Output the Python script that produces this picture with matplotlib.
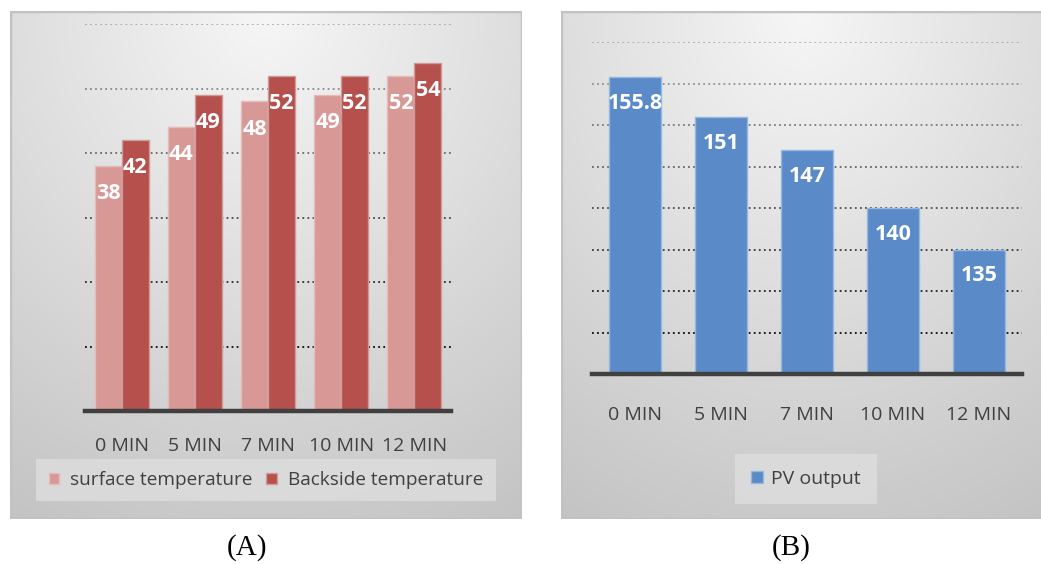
"""Two bar charts: panel temperatures (A) and PV output (B) over cooling time."""

import numpy as np
import matplotlib
matplotlib.use("Agg")
import matplotlib.pyplot as plt
from matplotlib.patches import Rectangle

plt.rcParams["font.family"] = ["Open Sans", "DejaVu Sans"]

# Data
times = ["0 MIN", "5 MIN", "7 MIN", "10 MIN", "12 MIN"]
surface_temp = [38, 44, 48, 49, 52]
backside_temp = [42, 49, 52, 52, 54]
pv_output = [155.8, 151, 147, 140, 135]
pv_labels = ["155.8", "151", "147", "140", "135"]

W, H = 1041, 564


def fig_rect(x0, y0, x1, y1):
    """Pixel box (top-left origin) -> figure fraction rect."""
    return [x0 / W, 1 - y1 / H, (x1 - x0) / W, (y1 - y0) / H]


def panel_background(fig, x0, y0, x1, y1):
    """Gray gradient panel like an Excel chart area."""
    bg = fig.add_axes(fig_rect(x0, y0, x1, y1), zorder=0)
    yy, xx = np.mgrid[0:1:200j, 0:1:200j]
    d = np.sqrt(((xx - 0.5) * 1.1) ** 2 + (yy * 1.0) ** 2)
    d = np.clip(d / 1.15, 0, 1)
    light, dark = 0.965, 0.765
    g = light - (light - dark) * d
    img = np.dstack([g, g, g])
    bg.imshow(img, extent=[0, 1, 0, 1], origin="upper", aspect="auto")
    bg.add_patch(Rectangle((0, 0), 1, 1, transform=bg.transAxes, fill=False,
                           edgecolor="#c2c2c2", lw=2.5))
    bg.set_axis_off()


def grid_lines(ax, levels):
    n = len(levels)
    for i, lv in enumerate(levels):
        # darker towards the bottom, as in the scanned original
        c = 0.66 - 0.62 * i / max(n - 1, 1)
        ax.axhline(lv, color=(c, c, c), lw=1.3, ls=(0, (1, 1.8)), zorder=1)


def style_axis(ax, pad):
    ax.set_facecolor("none")
    for s in ["top", "right", "left"]:
        ax.spines[s].set_visible(False)
    ax.spines["bottom"].set_color("#404040")
    ax.spines["bottom"].set_linewidth(3.2)
    ax.spines["bottom"].set_zorder(4)
    ax.set_yticks([])
    ax.tick_params(axis="x", length=0, pad=pad, labelsize=14, colors="#404040")


fig = plt.figure(figsize=(W / 100, H / 100), dpi=100)

# ---------- Panel A ----------
panel_background(fig, 10, 11, 522, 519)
axA = fig.add_axes(fig_rect(85, 24, 451, 411), zorder=2)
x = np.arange(len(times))
bw = 0.37
bars_s = axA.bar(x - bw / 2, surface_temp, bw, color="#d89896", edgecolor="#e6bcbb",
                 lw=1, label="surface temperature", zorder=3)
bars_b = axA.bar(x + bw / 2, backside_temp, bw, color="#b5504d", edgecolor="#d09a98",
                 lw=1, label="Backside temperature", zorder=3)
axA.set_xlim(-0.5, 4.5)
axA.set_ylim(0, 60)
grid_lines(axA, [60, 50, 40, 30, 20, 10])
axA.set_xticks(x)
axA.set_xticklabels(times)
style_axis(axA, 19)
for bars, vals in [(bars_s, surface_temp), (bars_b, backside_temp)]:
    for b, v in zip(bars, vals):
        axA.annotate(str(v), (b.get_x() + b.get_width() / 2, v), xytext=(0, -20),
                     textcoords="offset points", ha="center", va="center",
                     color="white", fontsize=15.5, fontweight="bold", zorder=5)
legA = fig.legend(handles=[bars_s, bars_b], loc="center",
                  bbox_to_anchor=(266 / W, 1 - 480 / H), ncol=2, frameon=True,
                  fontsize=13.7, handlelength=0.55, handleheight=0.55,
                  columnspacing=0.7, handletextpad=0.6, borderpad=0.65,
                  fancybox=False)
legA.get_frame().set_facecolor("#dedede")
legA.get_frame().set_edgecolor("none")
for t in legA.get_texts():
    t.set_color("#404040")
fig.text(247 / W, 1 - 548 / H, "(A)", ha="center", va="center",
         fontsize=21, family="Liberation Serif")

# ---------- Panel B ----------
panel_background(fig, 561, 11, 1045, 519)
axB = fig.add_axes(fig_rect(592, 42, 1022, 374), zorder=2)
bars_pv = axB.bar(x, pv_output, 0.6, color="#5a8bc8", edgecolor="#95b7e0",
                  lw=1, label="PV output", zorder=3)
axB.set_xlim(-0.5, 4.5)
axB.set_ylim(120, 160)
grid_lines(axB, [160, 155, 150, 145, 140, 135, 130, 125])
axB.set_xticks(x)
axB.set_xticklabels(times)
style_axis(axB, 23)
for b, v, lab in zip(bars_pv, pv_output, pv_labels):
    axB.annotate(lab, (b.get_x() + b.get_width() / 2, v), xytext=(0, -19),
                 textcoords="offset points", ha="center", va="center",
                 color="white", fontsize=15.5, fontweight="bold", zorder=5)
legB = fig.legend(handles=[bars_pv], loc="center",
                  bbox_to_anchor=(806 / W, 1 - 479 / H), frameon=True,
                  fontsize=14, handlelength=0.6, handleheight=0.6,
                  handletextpad=0.45, borderpad=0.8, fancybox=False)
legB.get_frame().set_facecolor("#dedede")
legB.get_frame().set_edgecolor("none")
for t in legB.get_texts():
    t.set_color("#404040")
fig.text(791 / W, 1 - 548 / H, "(B)", ha="center", va="center",
         fontsize=21, family="Liberation Serif")

fig.savefig("out.png", dpi=100)
